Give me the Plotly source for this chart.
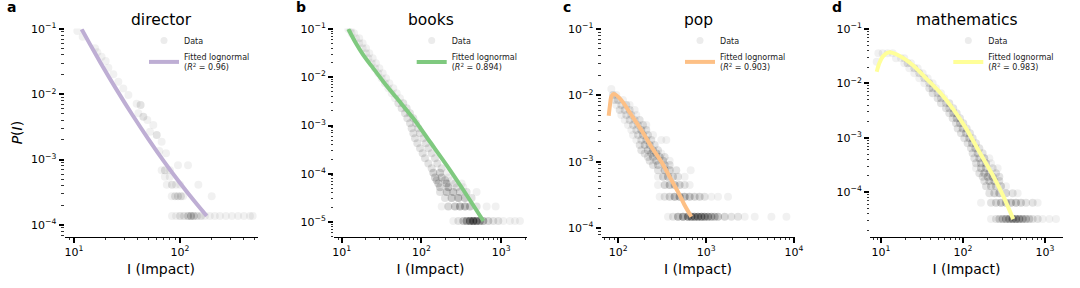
import plotly.graph_objects as go

W, H = 1080, 288

# ---------------- data ----------------
panel_titles = ["director", "books", "pop", "mathematics"]
panel_letters = ["a", "b", "c", "d"]
r2_values = ["0.96", "0.894", "0.903", "0.983"]
fit_colors = ["#beaed4", "#7fc97f", "#fdc086", "#ffff99"]

# director: observed P(I) points; n = number of overlapping observations at that spot
director_x = [10.75, 12.07, 15.8, 16.6, 18.2, 19.9, 21.1, 23.5, 26.2, 29.2, 32.6, 39.0, 42.5, 40.5,
              45.1, 49.2, 56.0, 52.1, 60.3, 67.1, 63.8, 73.8,
              95.7, 119,
              67.1, 72.1, 80.5,
              72, 80,
              75, 84, 91.7, 100, 149,
              83.5, 89.8, 95.7, 102, 107, 199,
              84, 91.7, 100, 109, 119, 127, 135, 145, 158, 172, 191, 213, 238, 271, 309, 353, 401, 457, 485]
director_y = [0.0932, 0.0763, 0.0506, 0.0440, 0.0377, 0.0324, 0.0256, 0.0202, 0.0156, 0.0123, 0.00976, 0.00719, 0.00686, 0.00512,
              0.00454, 0.00404, 0.00339, 0.00268, 0.00238, 0.00188, 0.00136, 0.00125,
              8.22e-4, 8.22e-4,
              6.85e-4, 6.85e-4, 6.85e-4,
              5.48e-4, 5.48e-4,
              4.11e-4, 4.11e-4, 4.11e-4, 4.11e-4, 4.11e-4,
              2.74e-4, 2.74e-4, 2.74e-4, 2.74e-4, 2.74e-4, 2.74e-4,
              1.37e-4, 1.37e-4, 1.37e-4, 1.37e-4, 1.37e-4, 1.37e-4, 1.37e-4, 1.37e-4, 1.37e-4, 1.37e-4, 1.37e-4,
              1.37e-4, 1.37e-4, 1.37e-4, 1.37e-4, 1.37e-4, 1.37e-4, 1.37e-4, 1.37e-4]
director_n = [1, 1, 1, 1, 1, 1, 1, 1, 1, 1, 1, 1, 2, 1,
              2, 1, 1, 1, 2, 1, 1, 1,
              1, 1,
              1, 2, 1,
              1, 1,
              1, 2, 1, 1, 1,
              1, 2, 2, 2, 1, 1,
              1, 1, 2, 2, 3, 4, 3, 2, 2, 1, 1, 1, 1, 1, 1, 1, 1, 1, 1]
director_fit_x = [11.81, 14.13, 17.78, 25.12, 35.48, 50.12, 70.79, 100.0, 141.3, 178.6]
director_fit_y = [0.0989, 0.05864, 0.0305, 0.01189, 0.004859, 0.00208, 9.33e-4, 4.385e-4, 2.158e-4, 1.369e-4]

books_x = [12.1, 12.96, 13.3, 14.3, 15.1, 16.6, 16.6, 18.3, 18.3, 20.2, 20.2, 22.2, 21.6, 24.5,
           23.8, 26.9, 26.2, 29.7, 28.8, 32.7, 31.7, 36.0, 34.9, 39.6, 38.5, 44.5, 42.4, 49.0,
           46.7, 53.9, 51.4, 59.3, 56.5, 65.3, 62.3, 71.9, 66.6, 79.2, 71.9, 85.5, 75.5, 91.5,
           79.2, 96.0, 83.1, 105.7, 88.9, 114.2, 96.0, 122.1, 103.7, 134.5, 110.9, 148.1,
           122.1, 158.4, 134.5, 179.5,
           141.1, 171.1, 207.4,
           148.1, 179.5, 217.6,
           155.4, 197.6, 239.5,
           163.0, 207.4, 263.7, 319.8,
           171.1, 217.6, 276.7, 335.6,
           171.1, 207.4, 251.3, 304.7, 369.5, 493.3,
           197.6, 239.5, 290.4, 352.1, 427.0,
           179.5, 217.6, 263.7, 304.7, 352.1, 406.9, 493.3, 658.4, 854,
           251.3, 290.4, 335.6, 369.5, 406.9, 448.1, 493.3, 543.2, 598, 691, 798, 922, 1065, 1291, 1492, 1724]
books_y = [0.100, 0.100, 0.0813, 0.0813, 0.0641, 0.0641, 0.0505, 0.0505, 0.0398, 0.0398, 0.0313, 0.0313,
           0.0247, 0.0247, 0.0194, 0.0194, 0.0153, 0.0153, 0.01206, 0.01206, 0.0095, 0.0095,
           0.00748, 0.00748, 0.00589, 0.00589, 0.00464, 0.00464, 0.00366, 0.00366, 0.00288, 0.00288,
           0.00227, 0.00227, 0.00179, 0.00179, 0.00141, 0.00141, 0.00111, 0.00111, 8.74e-4, 8.74e-4,
           6.88e-4, 6.88e-4, 5.42e-4, 5.42e-4, 4.27e-4, 4.27e-4, 3.36e-4, 3.36e-4, 2.65e-4, 2.65e-4,
           2.09e-4, 2.09e-4, 1.64e-4, 1.64e-4, 1.30e-4, 1.30e-4,
           1.05e-4, 1.05e-4, 1.05e-4,
           8.4e-5, 8.4e-5, 8.4e-5,
           7.35e-5, 7.35e-5, 7.35e-5,
           6.3e-5, 6.3e-5, 6.3e-5, 6.3e-5,
           5.25e-5, 5.25e-5, 5.25e-5, 5.25e-5,
           4.2e-5, 4.2e-5, 4.2e-5, 4.2e-5, 4.2e-5, 4.2e-5,
           3.15e-5, 3.15e-5, 3.15e-5, 3.15e-5, 3.15e-5,
           2.1e-5, 2.1e-5, 2.1e-5, 2.1e-5, 2.1e-5, 2.1e-5, 2.1e-5, 2.1e-5, 2.1e-5,
           1.05e-5, 1.05e-5, 1.05e-5, 1.05e-5, 1.05e-5, 1.05e-5, 1.05e-5, 1.05e-5, 1.05e-5, 1.05e-5,
           1.05e-5, 1.05e-5, 1.05e-5, 1.05e-5, 1.05e-5, 1.05e-5]
books_n = [1, 1, 1, 1, 1, 1, 1, 1, 1, 1, 1, 1, 1, 1,
           1, 1, 1, 1, 1, 1, 1, 1, 1, 1, 1, 1, 1, 1,
           1, 1, 2, 2, 2, 2, 2, 2, 2, 2, 2, 2, 2, 2,
           2, 2, 2, 2, 2, 2, 2, 2, 2, 2, 2, 2,
           2, 2, 2, 2,
           3, 3, 1,
           3, 3, 1,
           3, 3, 1,
           3, 4, 2, 1,
           3, 4, 2, 1,
           2, 4, 4, 3, 2, 1,
           2, 4, 5, 4, 2,
           1, 3, 4, 5, 5, 4, 2, 1, 1,
           1, 2, 4, 6, 9, 11, 9, 6, 5, 3, 2, 2, 1, 1, 1, 1]
books_fit_x = [12.1, 14.7, 18.7, 24.9, 33.3, 49, 79, 128, 207, 336, 599]
books_fit_y = [0.1, 0.0546, 0.0289, 0.0153, 0.0081, 0.0037, 0.00141, 4.6e-4, 1.51e-4, 4.6e-5, 1.05e-5]

pop_x = [83.3,
         87.0, 95.0,
         90.9, 99.2, 113.1,
         95.0, 108.3, 123.5, 134.7,
         103.7, 118.2, 134.7, 153.6,
         108.3, 123.5, 140.8, 160.5,
         118.2, 134.7, 153.6, 175.2,
         129.0, 147.0, 167.7, 191.1, 208.6,
         140.8, 160.5, 182.9, 208.6,
         147.0, 167.7, 191.1, 217.9, 248.5,
         160.5, 182.9, 208.6, 237.8, 309.1, 352.5,
         175.2, 199.7, 227.7, 259.6,
         182.9, 217.9, 248.5, 283.3,
         199.7, 237.8, 271.2, 309.1,
         217.9, 248.5, 296.0, 337.4,
         227.7, 271.2, 322.9, 384.7,
         248.5, 283.3, 337.4, 384.7,
         283.3, 337.4, 384.7, 458.1, 667.5,
         283.3, 322.9, 368.3, 419.8, 478.6, 570.2,
         283.3, 337.4, 384.7, 438.5, 500.0, 570.2, 650,
         296.0, 337.4, 384.7, 438.5, 500.0, 570.2, 650, 741.3, 845, 963.9, 1148, 1368, 1778,
         368.3, 419.8, 478.6, 545.8, 622.3, 679.2, 741.3, 809.1, 883.1, 963.9, 1052, 1148, 1253,
         1368, 1629, 1941, 2312, 2754, 3581, 5546, 8222]
pop_y = [0.01245,
         0.0101, 0.0101,
         0.00849, 0.00849, 0.00849,
         0.00714, 0.00714, 0.00714, 0.00714,
         0.0060, 0.0060, 0.0060, 0.0060,
         0.00504, 0.00504, 0.00504, 0.00504,
         0.00424, 0.00424, 0.00424, 0.00424,
         0.00356, 0.00356, 0.00356, 0.00356, 0.00356,
         0.0030, 0.0030, 0.0030, 0.0030,
         0.00252, 0.00252, 0.00252, 0.00252, 0.00252,
         0.00212, 0.00212, 0.00212, 0.00212, 0.00212, 0.00212,
         0.00178, 0.00178, 0.00178, 0.00178,
         1.48e-3, 1.48e-3, 1.48e-3, 1.48e-3,
         1.33e-3, 1.33e-3, 1.33e-3, 1.33e-3,
         1.18e-3, 1.18e-3, 1.18e-3, 1.18e-3,
         1.036e-3, 1.036e-3, 1.036e-3, 1.036e-3,
         8.88e-4, 8.88e-4, 8.88e-4, 8.88e-4,
         7.4e-4, 7.4e-4, 7.4e-4, 7.4e-4, 7.4e-4,
         5.92e-4, 5.92e-4, 5.92e-4, 5.92e-4, 5.92e-4, 5.92e-4,
         4.44e-4, 4.44e-4, 4.44e-4, 4.44e-4, 4.44e-4, 4.44e-4, 4.44e-4,
         2.96e-4, 2.96e-4, 2.96e-4, 2.96e-4, 2.96e-4, 2.96e-4, 2.96e-4, 2.96e-4, 2.96e-4, 2.96e-4,
         2.96e-4, 2.96e-4, 2.96e-4,
         1.48e-4, 1.48e-4, 1.48e-4, 1.48e-4, 1.48e-4, 1.48e-4, 1.48e-4, 1.48e-4, 1.48e-4, 1.48e-4,
         1.48e-4, 1.48e-4, 1.48e-4, 1.48e-4, 1.48e-4, 1.48e-4, 1.48e-4, 1.48e-4, 1.48e-4, 1.48e-4,
         1.48e-4]
pop_n = [1,
         2, 1,
         2, 2, 1,
         1, 2, 2, 1,
         2, 2, 2, 1,
         1, 2, 2, 1,
         1, 2, 2, 2,
         1, 2, 2, 2, 1,
         1, 2, 3, 2,
         1, 2, 3, 2, 1,
         1, 2, 3, 2, 1, 1,
         2, 3, 3, 2,
         2, 3, 3, 2,
         2, 3, 3, 1,
         2, 3, 3, 2,
         2, 3, 3, 1,
         2, 3, 3, 2,
         2, 4, 3, 2, 1,
         1, 3, 4, 3, 2, 1,
         1, 3, 4, 4, 3, 2, 1,
         1, 2, 3, 5, 5, 5, 4, 3, 3, 2, 1, 1, 1,
         1, 2, 5, 7, 8, 8, 8, 8, 8, 7, 6, 5, 4,
         4, 3, 2, 2, 1, 1, 1, 1]
pop_fit_x = [77.8, 80.4, 83.2, 89.3, 108, 141, 183, 238, 309, 385, 479, 570, 678]
pop_fit_y = [0.00492, 0.00715, 0.00953, 0.01047, 0.0085, 0.00505, 0.0030, 0.00168, 0.001,
             5.9e-4, 3.5e-4, 2.2e-4, 1.48e-4]

math_x = [9.28, 10.48, 12.06, 13.88,
          15.24, 17.54, 19.26,
          8.86,
          19.26, 21.14, 23.22,
          22.16, 25.5, 28.0,
          25.5, 29.34, 32.22,
          29.34, 33.8, 37.08,
          33.8, 38.85, 42.66,
          38.85, 42.66, 46.85,
          42.66, 49.1, 53.9,
          49.1, 53.9, 59.2,
          53.9, 62.03, 68.12,
          62.03, 68.12, 76.2,
          68.12, 76.2, 83.7,
          74.82, 83.7, 91.9,
          82.15, 91.9, 100.9,
          86.1, 99.06, 110.9,
          94.5, 108.8, 121.7,
          103.8, 119.5, 131.2,
          114.0, 128.8, 144.1,
          125.2, 141.4, 158.2,
          131.2, 151.0, 173.7,
          137.5, 158.2, 182.0, 209.5,
          144.1, 165.8, 190.8, 219.5,
          144.1, 165.8, 190.8, 230.0, 264.7,
          158.2, 182.0, 209.5, 252.6,
          173.7, 199.9, 230.0, 277.4,
          182.0, 209.5, 241.1, 277.4,
          190.8, 219.5, 252.6, 290.7, 334.5,
          209.5, 241.1, 277.4, 334.5, 403.4, 464.2,
          165.8, 219.5, 252.6, 290.7, 334.5, 384.9, 443.0, 509.6, 586.6, 707.3, 814,
          219.5, 252.6, 277.4, 304.6, 334.5, 367.3, 403.4, 443.0, 486.4, 534.1, 586.6, 644.1,
          707.3, 814, 936.5, 1129, 1362]
math_y = [0.0357, 0.0357, 0.0357, 0.0357,
          0.0289, 0.0289, 0.0289,
          0.0251,
          0.0234, 0.0234, 0.0234,
          0.0189, 0.0189, 0.0189,
          0.01532, 0.01532, 0.01532,
          0.0124, 0.0124, 0.0124,
          0.01003, 0.01003, 0.01003,
          0.00811, 0.00811, 0.00811,
          0.00657, 0.00657, 0.00657,
          0.00531, 0.00531, 0.00531,
          0.0043, 0.0043, 0.0043,
          0.00348, 0.00348, 0.00348,
          0.00282, 0.00282, 0.00282,
          0.00228, 0.00228, 0.00228,
          0.00185, 0.00185, 0.00185,
          0.00149, 0.00149, 0.00149,
          0.00121, 0.00121, 0.00121,
          9.78e-4, 9.78e-4, 9.78e-4,
          7.91e-4, 7.91e-4, 7.91e-4,
          6.40e-4, 6.40e-4, 6.40e-4,
          5.18e-4, 5.18e-4, 5.18e-4,
          4.19e-4, 4.19e-4, 4.19e-4, 4.19e-4,
          3.39e-4, 3.39e-4, 3.39e-4, 3.39e-4,
          2.75e-4, 2.75e-4, 2.75e-4, 2.75e-4, 2.75e-4,
          2.24e-4, 2.24e-4, 2.24e-4, 2.24e-4,
          1.92e-4, 1.92e-4, 1.92e-4, 1.92e-4,
          1.6e-4, 1.6e-4, 1.6e-4, 1.6e-4,
          1.28e-4, 1.28e-4, 1.28e-4, 1.28e-4, 1.28e-4,
          9.6e-5, 9.6e-5, 9.6e-5, 9.6e-5, 9.6e-5, 9.6e-5,
          6.4e-5, 6.4e-5, 6.4e-5, 6.4e-5, 6.4e-5, 6.4e-5, 6.4e-5, 6.4e-5, 6.4e-5, 6.4e-5, 6.4e-5,
          3.2e-5, 3.2e-5, 3.2e-5, 3.2e-5, 3.2e-5, 3.2e-5, 3.2e-5, 3.2e-5, 3.2e-5, 3.2e-5, 3.2e-5,
          3.2e-5, 3.2e-5, 3.2e-5, 3.2e-5, 3.2e-5, 3.2e-5]
math_n = [1, 1, 1, 1,
          1, 1, 1,
          1,
          1, 2, 1,
          1, 2, 1,
          1, 2, 1,
          1, 2, 1,
          1, 2, 1,
          2, 2, 1,
          2, 2, 1,
          2, 2, 1,
          2, 2, 2,
          2, 2, 2,
          2, 3, 2,
          2, 3, 2,
          2, 3, 2,
          2, 3, 2,
          2, 3, 2,
          2, 3, 2,
          2, 3, 2,
          2, 3, 2,
          2, 3, 2,
          2, 3, 3, 1,
          2, 3, 3, 1,
          1, 3, 3, 2, 1,
          2, 3, 3, 2,
          2, 3, 3, 2,
          2, 3, 3, 2,
          2, 3, 3, 3, 1,
          2, 3, 4, 3, 2, 1,
          1, 2, 3, 4, 4, 4, 4, 3, 2, 2, 1,
          1, 2, 3, 4, 5, 6, 7, 7, 6, 5, 4, 3,
          2, 2, 1, 1, 1]
math_fit_x = [8.87, 9.53, 10.5, 12.4, 16.7, 24.3, 35.4, 51.4, 74.8, 109, 158, 230, 305, 410]
math_fit_y = [0.0164, 0.0234, 0.031, 0.0372, 0.0323, 0.0218, 0.0124, 0.00705, 0.00348, 0.00149,
              5.56e-4, 2.07e-4, 8.9e-5, 3.2e-5]

x_tick_exps = [[1, 2], [1, 2, 3], [2, 3, 4], [1, 2, 3]]
y_tick_exps = [[-1, -2, -3, -4], [-1, -2, -3, -4, -5], [-1, -2, -3, -4], [-1, -2, -3, -4]]

# ---------------- layout constants ----------------
FONT = "DejaVu Sans"
panel_left_px = [64.5, 334.0, 601.5, 870.0]
panel_w_px = 193.0
top_px, bottom_px = 28.5, 236.7
x_ranges = [[0.9104, 2.731], [0.9034, 3.325], [1.8087, 4.007], [0.866, 3.2195]]
y_ranges = [[-4.1807, -0.9923], [-5.3047, -0.9896], [-4.1313, -0.9925], [-4.818, -0.9908]]
legend_text_px = [184.0, 451.7, 720.0, 988.3]
letter_px = [5.0, 294.0, 561.0, 830.0]

series = [
    (director_x, director_y, director_n, director_fit_x, director_fit_y),
    (books_x, books_y, books_n, books_fit_x, books_fit_y),
    (pop_x, pop_y, pop_n, pop_fit_x, pop_fit_y),
    (math_x, math_y, math_n, math_fit_x, math_fit_y),
]


def sup(e):
    s = str(e).replace("-", "\u2212")
    return f"10<sup>{s}</sup>"


minor_vals = [k * 10.0 ** e for e in range(-7, 6) for k in range(2, 10)]

fig = go.Figure()
annotations = []
layout = dict(
    width=W, height=H,
    margin=dict(l=0, r=0, t=0, b=0, autoexpand=False),
    paper_bgcolor="white", plot_bgcolor="white",
    font=dict(family=FONT, color="black"),
)

for i, (xs, ys, ns, fx, fy) in enumerate(series):
    k = i + 1
    xa = "x" if k == 1 else f"x{k}"
    ya = "y" if k == 1 else f"y{k}"
    leg = "legend" if k == 1 else f"legend{k}"
    ex_x = [x for x, n in zip(xs, ns) for _ in range(n)]
    ex_y = [y for y, n in zip(ys, ns) for _ in range(n)]
    fig.add_trace(go.Scatter(
        x=ex_x, y=ex_y, mode="markers", name="Data", showlegend=False,
        marker=dict(size=8, color="black", opacity=0.055, line=dict(width=0)),
        xaxis=xa, yaxis=ya, hoverinfo="skip"))
    # legend entry for the data points (light grey marker as in the reference legend)
    fig.add_trace(go.Scatter(
        x=[None], y=[None], mode="markers", name="Data",
        marker=dict(size=7, color="#ececec", line=dict(width=0)),
        xaxis=xa, yaxis=ya, legend=leg))
    fig.add_trace(go.Scatter(
        x=fx, y=fy, mode="lines",
        name=f"Fitted lognormal<br>(<i>R</i><sup>2</sup> = {r2_values[i]})",
        line=dict(color=fit_colors[i], width=4, shape="spline", smoothing=0.7),
        xaxis=xa, yaxis=ya, legend=leg))

    left = panel_left_px[i]
    dom_x = [left / W, (left + panel_w_px) / W]
    dom_y = [(H - bottom_px) / H, (H - top_px) / H]
    xkey = "xaxis" if k == 1 else f"xaxis{k}"
    ykey = "yaxis" if k == 1 else f"yaxis{k}"
    layout[xkey] = dict(
        type="log", domain=dom_x, anchor=ya, range=x_ranges[i], automargin=False,
        showgrid=False, zeroline=False, showline=True, linecolor="black", linewidth=1.2,
        ticks="outside", ticklen=5, tickwidth=1.6, tickcolor="black",
        tickmode="array", tickvals=[10.0 ** e for e in x_tick_exps[i]],
        ticktext=[sup(e) for e in x_tick_exps[i]],
        tickfont=dict(size=11, family=FONT, color="black"),
        minor=dict(ticks="outside", ticklen=2.5, tickwidth=0.8, tickcolor="#333",
                   tickmode="array", tickvals=minor_vals, showgrid=False),
        title=dict(text="I (Impact)", font=dict(size=14, family=FONT, color="black"), standoff=6),
    )
    ydict = dict(
        type="log", domain=dom_y, anchor=xa, range=y_ranges[i], automargin=False,
        showgrid=False, zeroline=False, showline=False,
        ticks="outside", ticklen=5, tickwidth=1.6, tickcolor="black",
        tickmode="array", tickvals=[10.0 ** e for e in y_tick_exps[i]],
        ticktext=[sup(e) for e in y_tick_exps[i]],
        tickfont=dict(size=11, family=FONT, color="black"),
        minor=dict(ticks="outside", ticklen=2.5, tickwidth=0.8, tickcolor="#333",
                   tickmode="array", tickvals=minor_vals, showgrid=False),
    )
    if k == 1:
        ydict["title"] = dict(text="<i>P</i>(<i>I</i>)", font=dict(size=14, family=FONT, color="black"),
                              standoff=5)
    layout[ykey] = ydict

    layout[leg] = dict(
        x=(legend_text_px[i] - 40) / W, y=1 - 26 / H, xanchor="left", yanchor="top",
        bgcolor="rgba(0,0,0,0)", borderwidth=0,
        font=dict(size=8, family=FONT, color="#222"),
        itemwidth=30, tracegroupgap=0,
    )

    annotations.append(dict(
        text=panel_titles[i], xref="paper", yref="paper",
        x=(left + panel_w_px / 2) / W, y=1 - 20 / H, xanchor="center", yanchor="middle",
        showarrow=False, font=dict(size=15.5, family=FONT, color="black")))
    annotations.append(dict(
        text=f"<b>{panel_letters[i]}</b>", xref="paper", yref="paper",
        x=letter_px[i] / W, y=1 - 7 / H, xanchor="left", yanchor="middle",
        showarrow=False, font=dict(size=14, family=FONT, color="black")))

layout["annotations"] = annotations
fig.update_layout(**layout)
fig.write_html(
    "out.html",
    config={"displayModeBar": False},
    post_script="document.body.style.margin='0';document.body.style.overflow='hidden';",
)
